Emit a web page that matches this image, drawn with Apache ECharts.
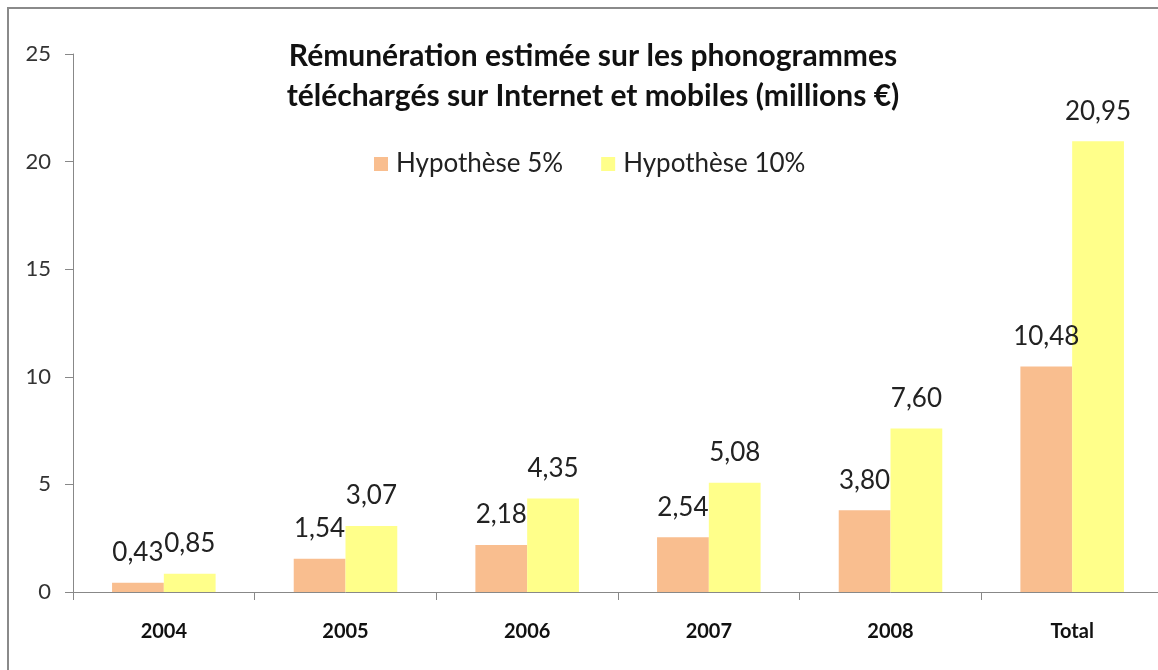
<!DOCTYPE html>
<html>
<head>
<meta charset="utf-8">
<script src="https://cdn.jsdelivr.net/npm/echarts@6/dist/echarts.min.js"></script>
<style>
  html, body { margin: 0; padding: 0; background: #fff; overflow: hidden; }
  #main { width: 1164px; height: 670px; }
</style>
</head>
<body>
<div id="main"></div>
<script>
// categories and values
const categories = ['2004', '2005', '2006', '2007', '2008', 'Total']
const hyp5 = [0.43, 1.54, 2.18, 2.54, 3.80, 10.48]
const hyp10 = [0.85, 3.07, 4.35, 5.08, 7.60, 20.95]
const seriesNames = ['Hypothèse 5%', 'Hypothèse 10%']

const font = 'Lato, "Open Sans", sans-serif'
const fmt = (p) => p.value.toFixed(2).replace('.', ',')

const chart = echarts.init(document.getElementById('main'))
const option = {
  backgroundColor: '#fff',
  animation: false,
  title: {
    text: 'Rémunération estimée sur les phonogrammes\ntéléchargés sur Internet et mobiles (millions €)',
    left: 588,
    textAlign: 'center',
    top: 31,
    textStyle: { fontFamily: font, fontSize: 30, fontWeight: 'bold', color: '#111', lineHeight: 40 },
  },
  legend: {
    top: 146,
    left: 369,
    itemWidth: 14,
    itemHeight: 14,
    itemGap: 38,
    icon: 'rect',
    textStyle: { fontFamily: font, fontSize: 26, color: '#222', padding: [0, 0, 0, 3] },
    data: seriesNames,
  },
  grid: { left: 73, right: 1, top: 54, bottom: 78 },
  xAxis: {
    type: 'category',
    data: categories,
    axisLine: { lineStyle: { color: '#888', width: 1 } },
    axisTick: { show: true, length: 8, lineStyle: { color: '#888' } },
    axisLabel: { fontFamily: font, fontSize: 20, fontWeight: 'bold', color: '#111', margin: 30 },
  },
  yAxis: {
    type: 'value',
    min: 0,
    max: 25,
    interval: 5,
    splitLine: { show: false },
    axisLine: { show: true, lineStyle: { color: '#888', width: 1 } },
    axisTick: { show: true, length: 8, lineStyle: { color: '#888' } },
    axisLabel: { fontFamily: font, fontSize: 22, color: '#333', margin: 22 },
  },
  series: [
    {
      name: seriesNames[0],
      type: 'bar',
      data: hyp5,
      barGap: '0%',
      barCategoryGap: '43%',
      itemStyle: { color: '#F9BE8F' },
      label: { show: true, position: 'top', distance: 17, formatter: fmt, fontFamily: font, fontSize: 26, color: '#222' },
    },
    {
      name: seriesNames[1],
      type: 'bar',
      data: hyp10,
      barGap: '0%',
      barCategoryGap: '43%',
      itemStyle: { color: '#FFFF8A' },
      label: { show: true, position: 'top', distance: 17, formatter: fmt, fontFamily: font, fontSize: 26, color: '#222' },
    },
  ],
  graphic: [
    { type: 'line', shape: { x1: 7, y1: 8, x2: 1164, y2: 8 }, style: { stroke: '#8a8a8a', lineWidth: 2 } },
    { type: 'line', shape: { x1: 8, y1: 7, x2: 8, y2: 670 }, style: { stroke: '#8a8a8a', lineWidth: 2 } },
  ],
}
option && chart.setOption(option)
</script>
</body>
</html>
